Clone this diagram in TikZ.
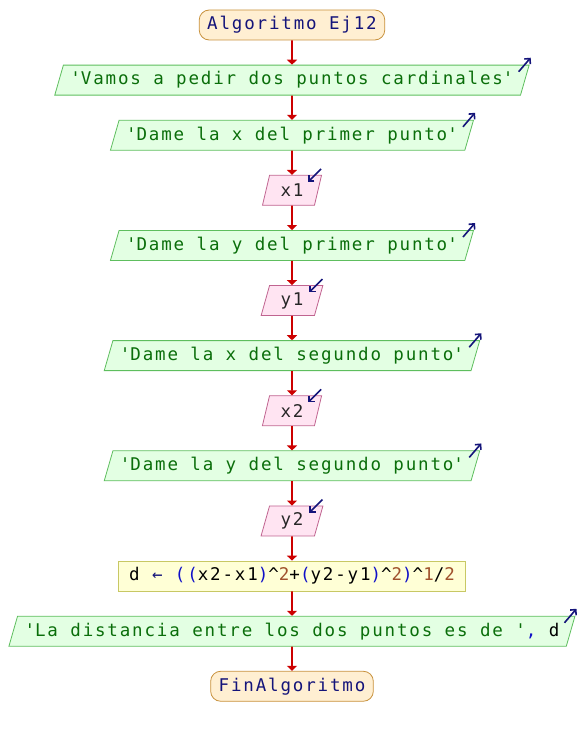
\documentclass[tikz,border=0pt]{standalone}
\usepackage{fontspec}
\newfontfamily\psfont{DejaVu Sans Mono}[LetterSpace=10.5]
\usetikzlibrary{positioning,shapes.geometric,arrows.meta}
\definecolor{flowred}{HTML}{CC0000}
\definecolor{startfill}{HTML}{FFEFD2}
\definecolor{startline}{HTML}{C8913C}
\definecolor{outfill}{HTML}{E3FFE3}
\definecolor{outline}{HTML}{5EBE5E}
\definecolor{outtext}{HTML}{0A6E0A}
\definecolor{infill}{HTML}{FFE4F2}
\definecolor{inline}{HTML}{C06490}
\definecolor{procfill}{HTML}{FFFFD6}
\definecolor{procline}{HTML}{C8C864}
\definecolor{kwblue}{HTML}{14147A}
\definecolor{parblue}{HTML}{1010C8}
\definecolor{numbrown}{HTML}{A0522D}
\newcommand{\q}{\textquotesingle}
\newcommand{\nb}[1]{\textcolor{numbrown}{#1}}
\newcommand{\pb}[1]{\textcolor{parblue}{#1}}

\begin{document}
\begin{tikzpicture}[
x=1pt, y=-1pt,
node distance=24.3pt,
every node/.style={font=\psfont\fontsize{17.5}{19}\selectfont},
StartEnd/.style={draw=startline,fill=startfill,thick,rounded corners=10pt,
  minimum height=30pt,inner xsep=8pt,text=kwblue},
OutputBox/.style={trapezium,trapezium left angle=70,trapezium right angle=110,
  trapezium stretches body,draw=outline,fill=outfill,thick,
  minimum height=30pt,inner xsep=7pt,text=outtext},
InputBox/.style={trapezium,trapezium left angle=70,trapezium right angle=110,
  trapezium stretches body,draw=inline,fill=infill,thick,
  minimum height=30pt,inner xsep=11pt,text=black!85},
ProcessBox/.style={draw=procline,fill=procfill,thick,minimum height=30pt,inner xsep=11pt},
Flow/.style={draw=flowred,line width=1.6pt,-{Triangle[length=5pt,width=10pt]}},
OutMark/.style={draw=kwblue,line width=1.6pt,-{Straight Barb[length=4pt,width=8pt]}},
InMark/.style={draw=kwblue,line width=1.6pt,-{Straight Barb[length=4pt,width=8pt]}}
]
\useasboundingbox (0,0) rectangle (584,735);

\node[StartEnd] (start) at (292,25) {Algoritmo Ej12};
\node[OutputBox, below=of start] (msg1) {\q Vamos a pedir dos puntos cardinales\q};
\node[OutputBox, below=of msg1] (msg2) {\q Dame la x del primer punto\q};
\node[InputBox, below=of msg2] (inx1) {x1};
\node[OutputBox, below=of inx1] (msg3) {\q Dame la y del primer punto\q};
\node[InputBox, below=of msg3] (iny1) {y1};
\node[OutputBox, below=of iny1] (msg4) {\q Dame la x del segundo punto\q};
\node[InputBox, below=of msg4] (inx2) {x2};
\node[OutputBox, below=of inx2] (msg5) {\q Dame la y del segundo punto\q};
\node[InputBox, below=of msg5] (iny2) {y2};
\node[ProcessBox, below=of iny2] (calc)
  {d \textcolor{kwblue}{←} \pb{((}x2-x1\pb{)}\textasciicircum\nb{2}+\pb{(}y2-y1\pb{)}\textasciicircum\nb{2}\pb{)}\textasciicircum\nb{1}/\nb{2}};
\node[OutputBox, below=of calc] (msg6)
  {\q La distancia entre los dos puntos es de \q\pb{,} \textcolor{black}{d}};
\node[StartEnd, below=of msg6] (stop) {FinAlgoritmo};

% flow lines
\foreach \a/\b in {start/msg1,msg1/msg2,msg2/inx1,inx1/msg3,msg3/iny1,iny1/msg4,
  msg4/inx2,inx2/msg5,msg5/iny2,iny2/calc,calc/msg6,msg6/stop}
  \draw[Flow] (\a) -- (\b);

% little arrows for output and input
\foreach \m in {msg1,msg2,msg3,msg4,msg5,msg6}
  \draw[OutMark] ([shift={(-11,7)}]\m.top right corner) -- ++(12,-14);
\foreach \m in {inx1,iny1,inx2,iny2}
  \draw[InMark] ([shift={(-1,-6)}]\m.top right corner) -- ++(-13,13);

\end{tikzpicture}
\end{document}
